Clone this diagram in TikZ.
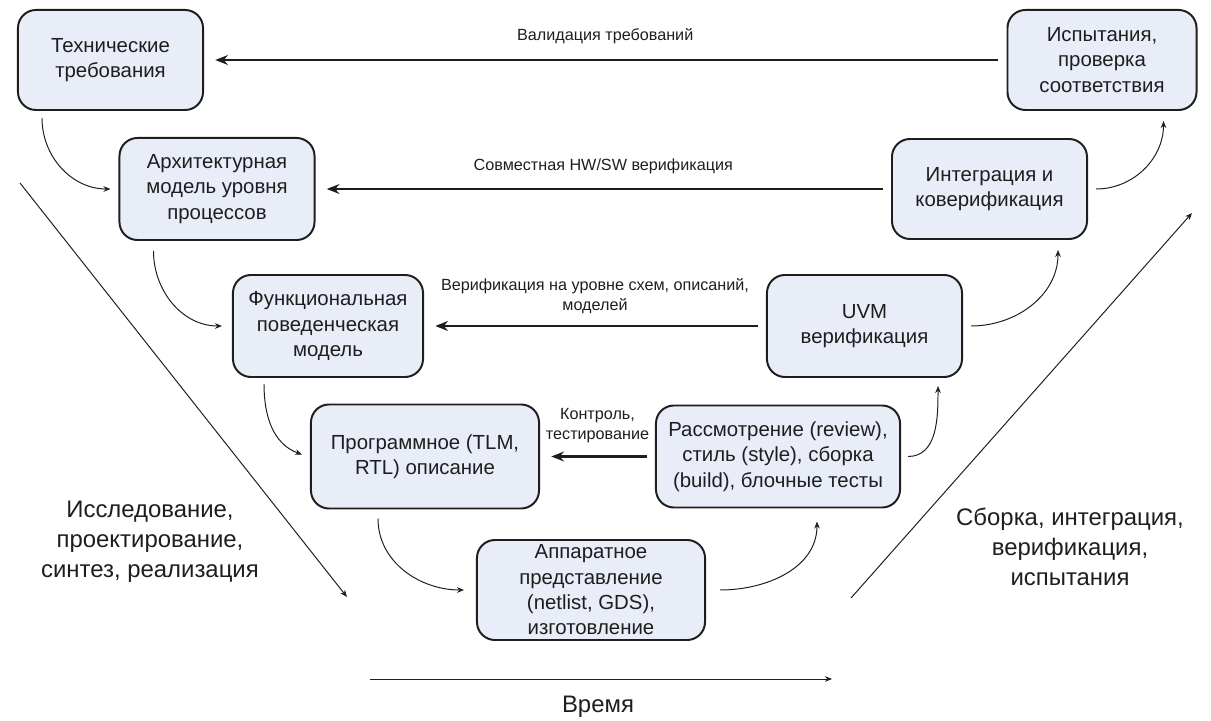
\documentclass[tikz,border=0pt]{standalone}
\usepackage{fontspec}
\setmainfont{Liberation Sans}
\usepackage{tikz}
\usetikzlibrary{arrows.meta,positioning}
\usepackage{xcolor}
\definecolor{boxfill}{RGB}{232,237,248}
\definecolor{ink}{RGB}{30,30,30}

\begin{document}
\begin{tikzpicture}[
    x=0.025cm, y=-0.025cm,
    stage/.style={draw=ink, line width=1.4pt, rounded corners=0.45cm, fill=boxfill, minimum width=4.75cm, minimum height=2.5cm, align=center, text=ink, inner sep=1pt, font=\fontsize{14.5}{18}\selectfont},
    arrow/.style={-{Stealth[length=9pt, width=7pt]}, line width=1.5pt, draw=ink, shorten <=6pt, shorten >=8pt},
    flow/.style={-{Stealth[length=5pt, width=4pt]}, line width=0.7pt, draw=ink},
    note/.style={font=\fontsize{11.5}{14}\selectfont, align=center, text=ink, inner sep=0pt},
    side/.style={font=\fontsize{17}{21.5}\selectfont, align=center, text=ink}
]
\useasboundingbox (0,0) rectangle (1211,721);

% Left branch
\node[stage, minimum width=4.625cm] (tech) at (110.5,60) {Технические\\требования};
\node[stage, minimum width=4.875cm, minimum height=2.55cm] (arch) at (217,189) {Архитектурная\\модель уровня\\процессов};
\node[stage, minimum width=4.75cm, minimum height=2.55cm] (func) at (328,326) {Функциональная\\поведенческая\\модель};
\node[stage, minimum width=5.7cm, minimum height=2.6cm] (prog) at (425,456.5) {Программное (TLM,\\RTL) описание};

% Bottom
\node[stage, minimum width=5.7cm] (hw) at (591,590) {Аппаратное\\представление\\(netlist, GDS),\\изготовление};

% Right branch
\node[stage, minimum width=6.1cm, minimum height=2.55cm] (review) at (778,456.5) {Рассмотрение (review),\\стиль (style), сборка\\(build), блочные тесты};
\node[stage, minimum width=4.875cm, minimum height=2.55cm] (uvm) at (864.5,326) {UVM\\верификация};
\node[stage, minimum width=4.875cm] (integ) at (989.5,189) {Интеграция и\\коверификация};
\node[stage, minimum width=4.725cm] (test) at (1102,60) {Испытания,\\проверка\\соответствия};

% Verification arrows
\draw[arrow] (test) -- (tech) node[midway, above=11pt, note] {Валидация требований};
\draw[arrow] (integ) -- (arch) node[midway, above=10pt, note] {Совместная HW/SW верификация};
\draw[arrow] (uvm) -- (func) node[midway, above=8pt, note] {Верификация на уровне схем, описаний,\\моделей};
\draw[arrow] (review) -- (prog) node[midway, above=9pt, note] {Контроль,\\тестирование};

% Flow down
\draw[flow] ([shift={(25,7)}]tech.south west) to[out=-90, in=180] ([shift={(-8,0)}]arch.west);
\draw[flow] ([shift={(35,10)}]arch.south west) to[out=-90, in=180] ([shift={(-10,0)}]func.west);
\draw[flow] ([shift={(32,6)}]func.south west) to[out=-90, in=160] ([shift={(-8,-2)}]prog.west);
\draw[flow] ([shift={(68,9)}]prog.south west) to[out=-90, in=180] ([shift={(-12,0)}]hw.west);

% Flow up
\draw[flow] ([shift={(14,0)}]hw.east) to[out=0, in=-90] ([shift={(-84,13)}]review.south east);
\draw[flow] ([shift={(7,0)}]review.east) to[out=0, in=-90] ([shift={(-25,8)}]uvm.south east);
\draw[flow] ([shift={(8,0)}]uvm.east) to[out=0, in=-90] ([shift={(-30,10)}]integ.south east);
\draw[flow] ([shift={(8,0)}]integ.east) to[out=0, in=-90] ([shift={(-34,10)}]test.south east);

% Phase arrows
\coordinate (downstart) at (20,183);
\coordinate (downend) at (347,597);
\coordinate (upstart) at (851,598);
\coordinate (upend) at (1192,213);
\coordinate (timestart) at (370,679);
\coordinate (timeend) at (832,679);
\draw[flow] (downstart) -- (downend);
\draw[flow] (upstart) -- (upend);
\draw[flow] (timestart) -- (timeend);

\node[side] (design) at (150,542) {Исследование,\\проектирование,\\синтез, реализация};
\node[side] (assembly) at (1070,547) {Сборка, интеграция,\\верификация,\\испытания};
\node[side] (time) at (598,707) {Время};

\end{tikzpicture}
\end{document}
